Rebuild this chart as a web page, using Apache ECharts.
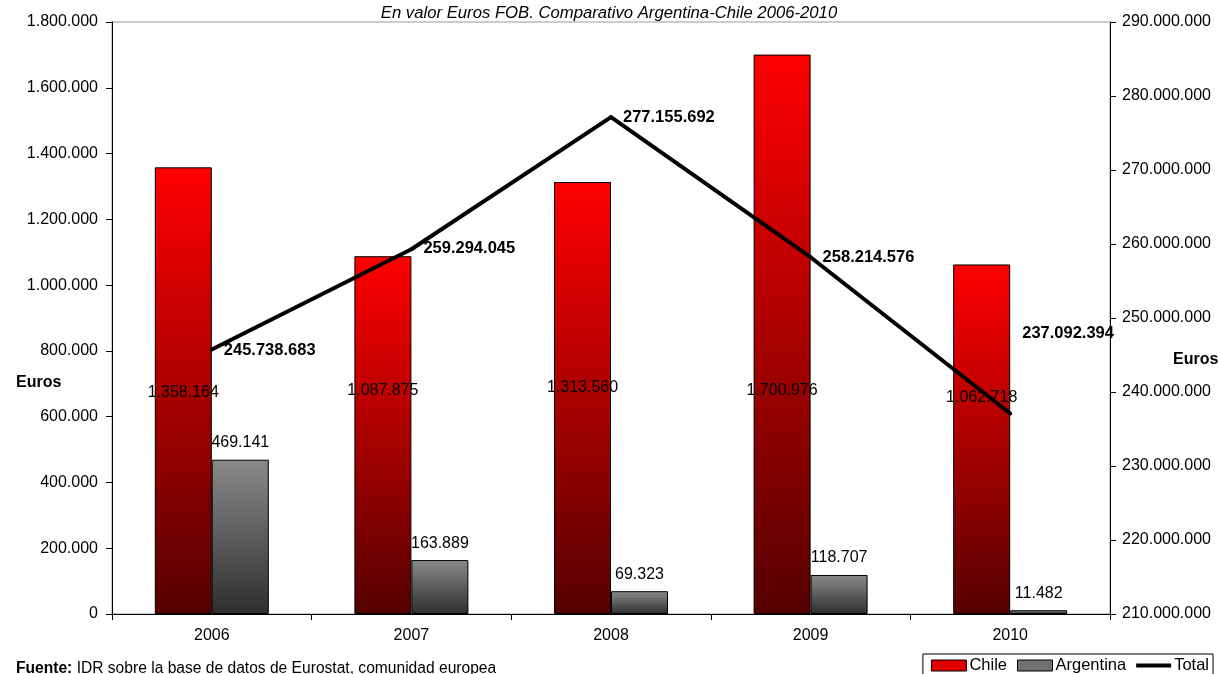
<!DOCTYPE html>
<html><head><meta charset="utf-8">
<script src="https://cdn.jsdelivr.net/npm/echarts@6/dist/echarts.min.js"></script>
<style>html,body{margin:0;padding:0;background:#fff}#c{width:1218px;height:674px}</style>
</head><body><div id="c"></div>
<script>
const categories = ['2006','2007','2008','2009','2010'];
const chile = [1358164, 1087875, 1313560, 1700976, 1062718];
const argentina = [469141, 163889, 69323, 118707, 11482];
const total = [245738683, 259294045, 277155692, 258214576, 237092394];
const leftTicks = {min: 0, max: 1800000, interval: 200000};
const rightTicks = {min: 210000000, max: 290000000, interval: 10000000};

function fmt(v){ return String(Math.round(v)).replace(/\B(?=(\d{3})+(?!\d))/g, '.'); }
const FONT = 'Liberation Sans, Arial, sans-serif';

const chileGrad = new echarts.graphic.LinearGradient(0,0,0,1,[{offset:0,color:'#ff0000'},{offset:1,color:'#550000'}]);
const argGrad = new echarts.graphic.LinearGradient(0,0,0,1,[{offset:0,color:'#8a8a8a'},{offset:1,color:'#2e2e2e'}]);

const chileLabelDist = [213, 215, 218, 215, 208];
const totalOffsets = [[0,1],[0,-1],[0,0],[0,0],[0,-80]];

const chart = echarts.init(document.getElementById('c'));
chart.setOption({
  animation: false,
  textStyle: {fontFamily: FONT},
  title: [
    {text: 'En valor Euros FOB. Comparativo Argentina-Chile 2006-2010', left: 'center', top: 0,
     textStyle: {fontSize: 16.7, fontStyle: 'italic', fontWeight: 'normal', color: '#000', fontFamily: FONT}},
    {text: 'Euros', left: 11, top: 370, textStyle: {fontSize: 16, fontWeight: 'bold', color: '#000', fontFamily: FONT}},
    {text: 'Euros', left: 1168, top: 347, textStyle: {fontSize: 16, fontWeight: 'bold', color: '#000', fontFamily: FONT}},
    {text: '{b|Fuente:} IDR sobre la base de datos de Eurostat, comunidad europea', left: 11, top: 656,
     textStyle: {fontSize: 15.6, fontWeight: 'normal', color: '#000', fontFamily: FONT,
       rich: {b: {fontWeight: 'bold', fontSize: 15.6, fontFamily: FONT, color: '#000'}}}}
  ],
  legend: {
    right: 5, bottom: -3, orient: 'horizontal',
    borderColor: '#000', borderWidth: 1, padding: [3, 4, 3, 8], itemGap: 10,
    itemWidth: 35, itemHeight: 11,
    textStyle: {fontSize: 16.5, color: '#000', fontFamily: FONT, padding: [0,0,0,-2]},
    data: [
      {name: 'Chile', icon: 'rect', itemStyle: {color: '#e00000', borderColor: '#000', borderWidth: 1}},
      {name: 'Argentina', icon: 'rect', itemStyle: {color: '#707070', borderColor: '#000', borderWidth: 1}},
      {name: 'Total', icon: 'path://M0,0h35v4h-35z', itemStyle: {color: '#000', borderWidth: 0}}
    ]
  },
  grid: {left: 112, right: 108, top: 22, bottom: 60, show: true, borderColor: '#999', borderWidth: 1},
  xAxis: {
    type: 'category', data: categories,
    axisLine: {lineStyle: {color: '#000', width: 1}},
    axisTick: {show: true, length: 6, lineStyle: {color: '#000'}},
    axisLabel: {fontSize: 16, color: '#000', margin: 14, fontFamily: FONT}
  },
  yAxis: [
    {type: 'value', min: leftTicks.min, max: leftTicks.max, interval: leftTicks.interval, position: 'left',
     axisLine: {show: true, lineStyle: {color: '#000'}}, axisTick: {show: true, length: 6, lineStyle: {color: '#000'}},
     splitLine: {show: false},
     axisLabel: {fontSize: 16, color: '#000', margin: 14, formatter: fmt, fontFamily: FONT}},
    {type: 'value', min: rightTicks.min, max: rightTicks.max, interval: rightTicks.interval, position: 'right',
     axisLine: {show: true, lineStyle: {color: '#000'}}, axisTick: {show: true, length: 6, lineStyle: {color: '#000'}},
     splitLine: {show: false},
     axisLabel: {fontSize: 16, color: '#000', margin: 12, formatter: fmt, fontFamily: FONT}}
  ],
  series: [
    {name: 'Chile', type: 'bar', yAxisIndex: 0, barWidth: 57, barGap: '0%',
     itemStyle: {color: chileGrad, borderColor: '#000', borderWidth: 1},
     data: chile.map((v, i) => ({value: v, label: {distance: chileLabelDist[i]}})),
     label: {show: true, position: 'insideBottom', fontSize: 16, color: '#000', fontFamily: FONT, formatter: p => fmt(p.value)}},
    {name: 'Argentina', type: 'bar', yAxisIndex: 0, barWidth: 57, barGap: '0%',
     itemStyle: {color: argGrad, borderColor: '#000', borderWidth: 1},
     data: argentina,
     label: {show: true, position: 'top', distance: 9, fontSize: 16, color: '#000', fontFamily: FONT, formatter: p => fmt(p.value)}},
    {name: 'Total', type: 'line', yAxisIndex: 1, symbol: 'circle', symbolSize: 4, showSymbol: true, z: 5,
     lineStyle: {color: '#000', width: 4}, itemStyle: {color: '#000'},
     data: total.map((v, i) => ({value: v, label: {offset: totalOffsets[i]}})),
     label: {show: true, position: 'right', distance: 10, fontSize: 16.5, fontWeight: 'bold', color: '#000', fontFamily: FONT, formatter: p => fmt(p.value)}}
  ]
});
</script>
</body></html>
